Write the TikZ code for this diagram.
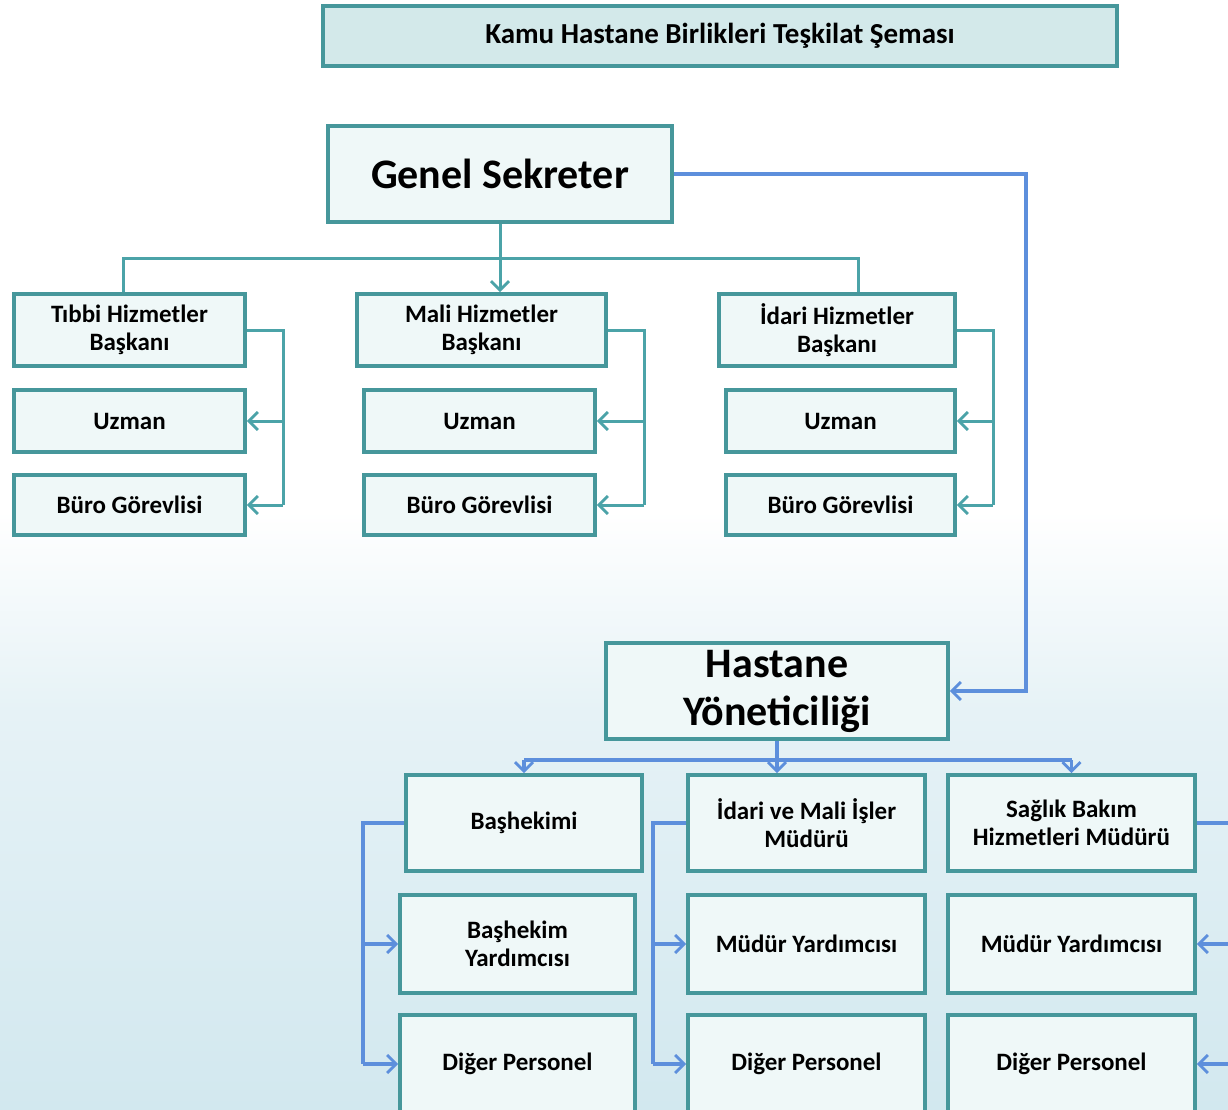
\documentclass[tikz,border=0pt]{standalone}
\usepackage{fontspec}
\setmainfont{Carlito}
\usetikzlibrary{arrows.meta}
\definecolor{boxline}{HTML}{46979B}
\definecolor{boxfill}{HTML}{EFF8F8}
\definecolor{titlefill}{HTML}{D3E9EA}
\definecolor{tealc}{HTML}{4BA3A8}
\definecolor{bluec}{HTML}{5D8FDC}
\definecolor{bgb}{HTML}{D2E8EF}
\definecolor{bgm}{HTML}{E6F2F6}
\pgfdeclareverticalshading{bgsh}{100bp}{color(0bp)=(bgb); color(25bp)=(bgb); color(43bp)=(bgm); color(52bp)=(white); color(100bp)=(white)}
\begin{document}
\begin{tikzpicture}[x=0.5pt,y=-0.5pt,
  box/.style={draw=boxline, fill=boxfill, line width=1.9pt, align=center, inner sep=0pt, text=black,
    font=\bfseries\fontsize{12.5}{14}\selectfont},
  bigbox/.style={box, font=\bfseries\fontsize{21}{24}\selectfont},
  tline/.style={draw=tealc, line width=1.5pt},
  bline/.style={draw=bluec, line width=1.6pt},
  arr/.style={-{Straight Barb[length=4.5pt,width=9pt,line width=1.4pt]}}]
\useasboundingbox (0,0) rectangle (1228,1110);
\shade[shading=bgsh] (0,0) rectangle (1228,1110);

% title
\node[box, fill=titlefill, minimum width=397pt, minimum height=30pt, font=\bfseries\fontsize{14.5}{16}\selectfont] (title) at (720,36) {Kamu Hastane Birlikleri Teşkilat Şeması};

% upper part
\node[bigbox, minimum width=172pt, minimum height=48pt] (gs) at (500,174) {Genel Sekreter};

\node[box, minimum width=115.5pt, minimum height=36pt] (tibbi) at (129.5,330) {Tıbbi Hizmetler\\Başkanı};
\node[box, minimum width=115.5pt, minimum height=31pt] (uzL) at (129.5,421) {Uzman};
\node[box, minimum width=115.5pt, minimum height=30pt] (buroL) at (129.5,505) {Büro Görevlisi};

\node[box, minimum width=124.5pt, minimum height=36pt] (mali) at (481.5,330) {Mali Hizmetler\\Başkanı};
\node[box, minimum width=115.5pt, minimum height=31pt] (uzM) at (479.5,421) {Uzman};
\node[box, minimum width=115.5pt, minimum height=30pt] (buroM) at (479.5,505) {Büro Görevlisi};

\node[box, minimum width=118pt, minimum height=36pt] (idari) at (837,330) {İdari Hizmetler\\Başkanı};
\node[box, minimum width=114.5pt, minimum height=31pt] (uzR) at (840.5,421) {Uzman};
\node[box, minimum width=114.5pt, minimum height=30pt] (buroR) at (840.5,505) {Büro Görevlisi};

% lower part
\node[bigbox, minimum width=171pt, minimum height=48pt] (hy) at (777,691) {Hastane\\Yöneticiliği};

\node[box, minimum width=118pt, minimum height=48pt] (bas) at (524,823) {Başhekimi};
\node[box, minimum width=117.5pt, minimum height=49pt] (basy) at (517.5,944) {Başhekim\\Yardımcısı};
\node[box, minimum width=117.5pt, minimum height=49pt] (digL) at (517.5,1064) {Diğer Personel};

\node[box, minimum width=118.5pt, minimum height=48pt] (idm) at (806.5,823) {İdari ve Mali İşler\\Müdürü};
\node[box, minimum width=118.5pt, minimum height=49pt] (myM) at (806.5,944) {Müdür Yardımcısı};
\node[box, minimum width=118.5pt, minimum height=49pt] (digM) at (806.5,1064) {Diğer Personel};

\node[box, minimum width=123.5pt, minimum height=48pt] (sag) at (1071.5,823) {Sağlık Bakım\\Hizmetleri Müdürü};
\node[box, minimum width=123.5pt, minimum height=49pt] (myR) at (1071.5,944) {Müdür Yardımcısı};
\node[box, minimum width=123.5pt, minimum height=49pt] (digR) at (1071.5,1064) {Diğer Personel};

% teal connectors (upper)
\coordinate (dl) at (123,258);
\coordinate (dr) at (858,258);
\draw[tline] (dl |- tibbi.north) -- (dl) -- (dr) -- (dr |- idari.north);
\draw[tline,arr] (gs.south) -- (gs.south |- mali.north);

\coordinate (tl) at (283,330);
\draw[tline] (tibbi.east) -- (tl) -- (tl |- buroL.east);
\draw[tline,arr] (tl |- uzL.east) -- (uzL.east);
\draw[tline,arr] (tl |- buroL.east) -- (buroL.east);

\coordinate (tm) at (644,330);
\draw[tline] (mali.east) -- (tm) -- (tm |- buroM.east);
\draw[tline,arr] (tm |- uzM.east) -- (uzM.east);
\draw[tline,arr] (tm |- buroM.east) -- (buroM.east);

\coordinate (tr) at (993,330);
\draw[tline] (idari.east) -- (tr) -- (tr |- buroR.east);
\draw[tline,arr] (tr |- uzR.east) -- (uzR.east);
\draw[tline,arr] (tr |- buroR.east) -- (buroR.east);

% blue connectors
\coordinate (bc) at (1026,174);
\draw[bline,arr] (gs.east) -- (bc) |- (hy.east);

\coordinate (hd) at (777,760);
\draw[bline] (hy.south) -- (hd);
\draw[bline] (bas.north |- hd) -- (sag.north |- hd);
\draw[bline,arr] (bas.north |- hd) -- (bas.north);
\draw[bline,arr] (hd) -- (hd |- idm.north);
\draw[bline,arr] (sag.north |- hd) -- (sag.north);

\coordinate (bl) at (363,823);
\draw[bline] (bas.west) -- (bl) -- (bl |- digL.west);
\draw[bline,arr] (bl |- basy.west) -- (basy.west);
\draw[bline,arr] (bl |- digL.west) -- (digL.west);

\coordinate (bm) at (653,823);
\draw[bline] (idm.west) -- (bm) -- (bm |- digM.west);
\draw[bline,arr] (bm |- myM.west) -- (myM.west);
\draw[bline,arr] (bm |- digM.west) -- (digM.west);

\coordinate (br) at (1245,823);
\draw[bline] (sag.east) -- (br) -- (br |- digR.east);
\draw[bline,arr] (br |- myR.east) -- (myR.east);
\draw[bline,arr] (br |- digR.east) -- (digR.east);
\end{tikzpicture}
\end{document}
